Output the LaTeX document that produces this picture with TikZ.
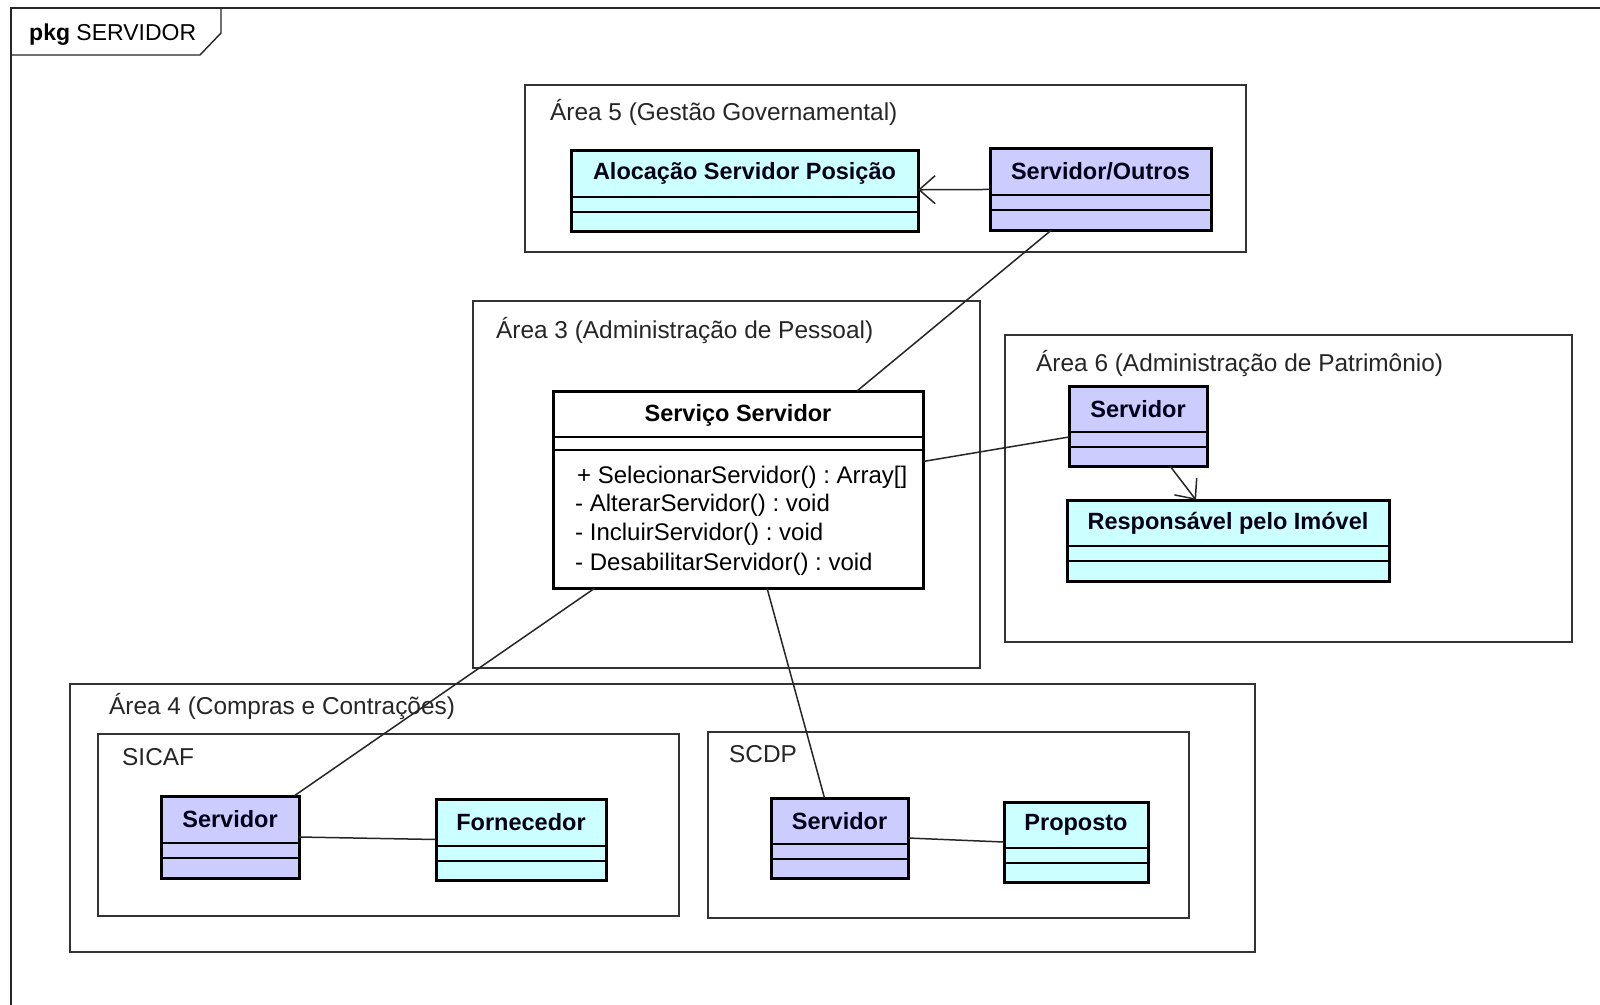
\documentclass[tikz,border=0pt]{standalone}
\usepackage{fontspec}
\setmainfont{Liberation Sans}
\usetikzlibrary{arrows.meta}
\frenchspacing
\definecolor{clsblue}{HTML}{CCCCFF}
\definecolor{clscyan}{HTML}{CCFFFF}
\newcommand\umlcls[8]{% name, x, y, w, h, fill, label, header height
  \node[clsbox, fill=#6, minimum width=#4pt, minimum height=#5pt] (#1) at (#2,#3) {};
  \draw[cmpline] ([yshift=-#8pt]#1.north west) -- ([yshift=-#8pt]#1.north east);
  \draw[cmpline] ([yshift=-#8pt-15pt]#1.north west) -- ([yshift=-#8pt-15pt]#1.north east);
  \node[clsname] (#1-name) at ([yshift=-0.5*#8pt]#1.north) {#7};
}
\begin{document}
\begin{tikzpicture}[x=1pt,y=-1pt,
  pkgbox/.style={draw=black!80, line width=1.4pt, anchor=north west, inner sep=0pt, outer sep=0pt},
  pkglabel/.style={anchor=base west, inner sep=0pt, font=\fontsize{24.4}{27}\selectfont, text=black!85},
  clsbox/.style={draw=black, line width=3pt, anchor=north west, inner sep=0pt, outer sep=0pt},
  cmpline/.style={draw=black, line width=1.3pt},
  clsname/.style={inner sep=0pt, font=\fontsize{23.5}{26}\selectfont\bfseries, text=black!90!blue},
  oplabel/.style={anchor=base west, inner sep=0pt, font=\fontsize{24}{27}\selectfont},
  conn/.style={draw=black!85, line width=1.5pt},
  openarrow/.style={-{Straight Barb[length=16pt,width=28pt,line width=1.5pt]}}
]
\useasboundingbox (0,0) rectangle (1600,1004);
\fill[white] (0,0) rectangle (1600,1004);

% outer package frame
\draw[draw=black!85, line width=1.4pt] (11,1010) -- (11,8) -- (1605,8);
\draw[draw=black!85, line width=1.4pt] (11,55) -- (200,55) -- (221,33) -- (221,8);
\node[anchor=base west, inner sep=0pt, font=\fontsize{23}{26}\selectfont] (pkgtitle) at (29,40) {\textbf{pkg} SERVIDOR};

% package boxes
\node[pkgbox, minimum width=721pt, minimum height=167pt] (a5) at (525,85) {};
\node[pkglabel] (a5l) at (550,120) {Área 5 (Gestão Governamental)};
\node[pkgbox, minimum width=507pt, minimum height=367pt] (a3) at (473,301) {};
\node[pkglabel] (a3l) at (496,338) {Área 3 (Administração de Pessoal)};
\node[pkgbox, minimum width=567pt, minimum height=307pt] (a6) at (1005,335) {};
\node[pkglabel] (a6l) at (1036,371) {Área 6 (Administração de Patrimônio)};
\node[pkgbox, minimum width=1185pt, minimum height=268pt] (a4) at (70,684) {};
\node[pkglabel] (a4l) at (109,714) {Área 4 (Compras e Contrações)};
\node[pkgbox, minimum width=581pt, minimum height=182pt] (sicaf) at (98,734) {};
\node[pkglabel] (sicafl) at (122,765) {SICAF};
\node[pkgbox, minimum width=481pt, minimum height=186pt] (scdp) at (708,732) {};
\node[pkglabel] (scdpl) at (729,762) {SCDP};

% classes
\umlcls{aloc}{571}{150}{347}{81}{clscyan}{Alocação Servidor Posição}{47}
\umlcls{so}{990}{148}{221}{82}{clsblue}{Servidor/Outros}{47}
\umlcls{s6}{1069}{386}{138}{80}{clsblue}{Servidor}{46}
\umlcls{resp}{1067}{500}{322}{81}{clscyan}{Responsável pelo Imóvel}{46}
\umlcls{sicS}{161}{796}{138}{82}{clsblue}{Servidor}{47}
\umlcls{forn}{436}{799}{170}{81}{clscyan}{Fornecedor}{47}
\umlcls{scS}{771}{798}{137}{80}{clsblue}{Servidor}{46}
\umlcls{prop}{1004}{802}{144}{80}{clscyan}{Proposto}{46}

% Serviço Servidor
\node[clsbox, fill=white, minimum width=370pt, minimum height=197pt] (ss) at (553,391) {};
\draw[cmpline] ([yshift=-46pt]ss.north west) -- ([yshift=-46pt]ss.north east);
\draw[cmpline] ([yshift=-59pt]ss.north west) -- ([yshift=-59pt]ss.north east);
\node[clsname, text=black] (ss-name) at ([yshift=-24pt]ss.north) {Serviço Servidor};
\node[oplabel] (op1) at (577,483) {+ SelecionarServidor() : Array[]};
\node[oplabel] (op2) at (575,511) {- AlterarServidor() : void};
\node[oplabel] (op3) at (575,540) {- IncluirServidor() : void};
\node[oplabel] (op4) at (575,570) {- DesabilitarServidor() : void};

% connectors
\draw[conn, openarrow] (so) -- (aloc);
\draw[conn] ([xshift=-49pt]so.south) -- ([xshift=119pt]ss.north);
\draw[conn] ([yshift=28pt]ss.east) -- ([yshift=-11pt]s6.west);
\draw[conn, openarrow] ([xshift=32pt]s6.south) -- ([xshift=-32pt]resp.north);
\draw[conn] ([xshift=-143pt]ss.south) -- ([xshift=64pt]sicS.north);
\draw[conn] ([xshift=29pt]ss.south) -- ([xshift=-15pt]scS.north);
\draw[conn] (sicS.east) -- (forn.west);
\draw[conn] (scS.east) -- (prop.west);
\end{tikzpicture}
\end{document}
